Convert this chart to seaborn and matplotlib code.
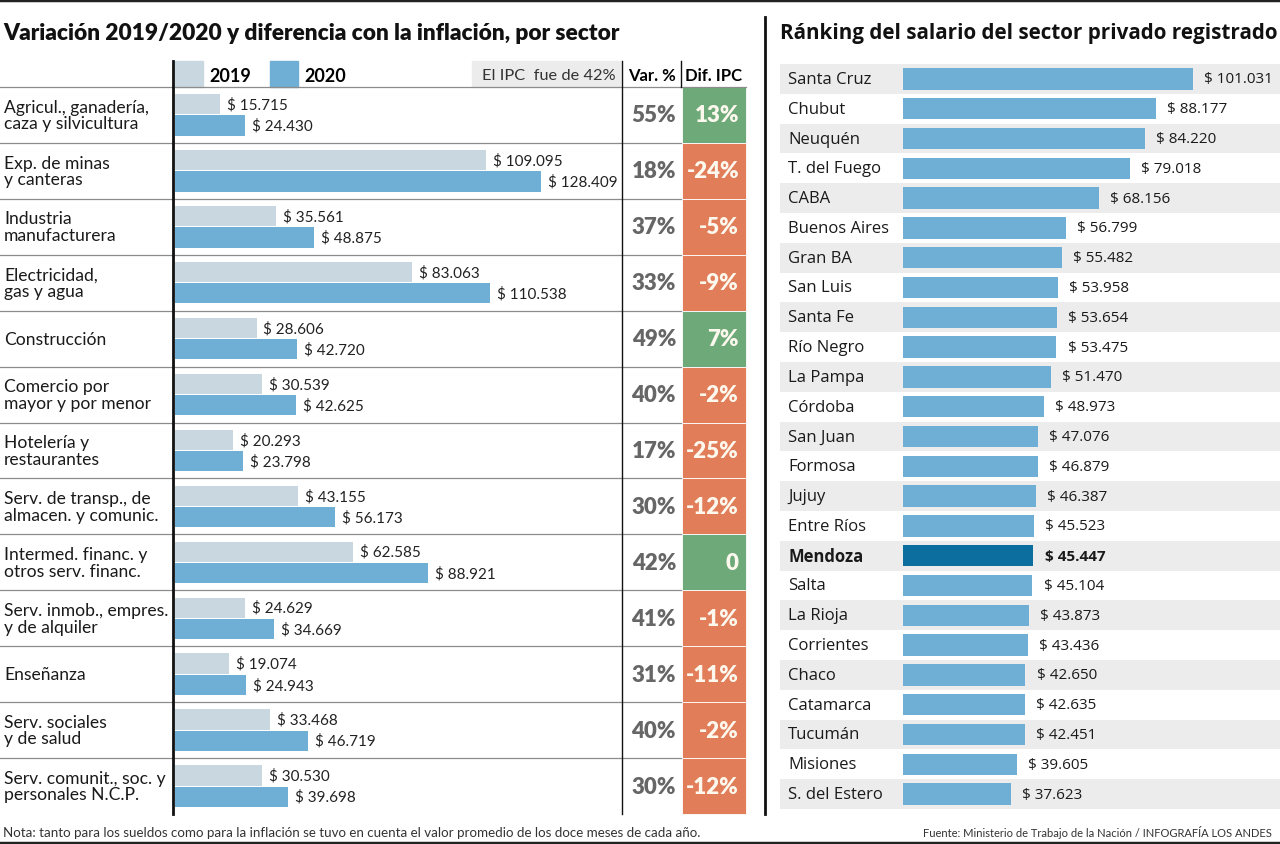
import pandas as pd
import matplotlib.pyplot as plt
import seaborn as sns
from matplotlib.patches import Rectangle
from matplotlib.lines import Line2D
from matplotlib.transforms import blended_transform_factory

# datos - panel izquierdo (por sector)
sectores = ['Agricul., ganadería,\ncaza y silvicultura', 'Exp. de minas\ny canteras',
            'Industria\nmanufacturera', 'Electricidad,\ngas y agua', 'Construcción',
            'Comercio por\nmayor y por menor', 'Hotelería y\nrestaurantes',
            'Serv. de transp., de\nalmacen. y comunic.', 'Intermed. financ. y\notros serv. financ.',
            'Serv. inmob., empres.\ny de alquiler', 'Enseñanza', 'Serv. sociales\ny de salud',
            'Serv. comunit., soc. y\npersonales N.C.P.']
sal_2019 = [15715, 109095, 35561, 83063, 28606, 30539, 20293, 43155, 62585, 24629, 19074, 33468, 30530]
sal_2020 = [24430, 128409, 48875, 110538, 42720, 42625, 23798, 56173, 88921, 34669, 24943, 46719, 39698]
var_pct = [55, 18, 37, 33, 49, 40, 17, 30, 42, 41, 31, 40, 30]
dif_ipc = [13, -24, -5, -9, 7, -2, -25, -12, 0, -1, -11, -2, -12]

# datos - panel derecho (ranking provincias)
provincias = ['Santa Cruz', 'Chubut', 'Neuquén', 'T. del Fuego', 'CABA', 'Buenos Aires', 'Gran BA',
              'San Luis', 'Santa Fe', 'Río Negro', 'La Pampa', 'Córdoba', 'San Juan', 'Formosa',
              'Jujuy', 'Entre Ríos', 'Mendoza', 'Salta', 'La Rioja', 'Corrientes', 'Chaco',
              'Catamarca', 'Tucumán', 'Misiones', 'S. del Estero']
salario_prov = [101031, 88177, 84220, 79018, 68156, 56799, 55482, 53958, 53654, 53475, 51470,
                48973, 47076, 46879, 46387, 45523, 45447, 45104, 43873, 43436, 42650, 42635,
                42451, 39605, 37623]
destacada = 'Mendoza'

C19 = '#c9d7e1'
C20 = '#6fafd5'
CDEST = '#0b6e9e'
VERDE = '#6ea97a'
NARANJA = '#e27d5a'
GRIS = '#ececec'

NARROW = ['Lato', 'DejaVu Sans']
OPEN = ['Open Sans', 'DejaVu Sans']

W, H = 1280, 845


def fx(p):
    return p / W


def fy(p):
    return 1 - p / H


def pesos(v):
    return '$ ' + f'{v:,}'.replace(',', '.')


fig = plt.figure(figsize=(W / 100, H / 100), dpi=100)
fig.patch.set_facecolor('white')
rend = fig.canvas.get_renderer()


def ajustar(t, ancho):
    # escala el tamaño de letra para que el texto ocupe 'ancho' pixeles
    w = t.get_window_extent(rend).width
    t.set_fontsize(t.get_fontsize() * ancho / w)


# filetes arriba y abajo
fig.add_artist(Line2D([0, 1], [fy(1), fy(1)], color='#222222', lw=2.5))
fig.add_artist(Line2D([0, 1], [fy(844), fy(844)], color='#222222', lw=2.5))

# ---------- panel izquierdo ----------
df = pd.DataFrame({'sector': sectores * 2,
                   'salario': sal_2019 + sal_2020,
                   'anio': ['2019'] * len(sectores) + ['2020'] * len(sectores)})

ax1 = fig.add_axes([fx(175), fy(815), fx(620) - fx(175), fy(88) - fy(815)])
sns.barplot(data=df, y='sector', x='salario', hue='anio', order=sectores,
            hue_order=['2019', '2020'], palette={'2019': C19, '2020': C20},
            orient='h', width=0.76, gap=0.05, saturation=1, legend=False, ax=ax1)
ax1.set_xlim(0, (620 - 175) / 0.00285)
ax1.set_ylim(len(sectores) - 0.5, -0.5)
ax1.axis('off')

for cont, vals in zip(ax1.containers, [sal_2019, sal_2020]):
    ax1.bar_label(cont, labels=[pesos(v) for v in vals], padding=5, fontsize=11,
                  fontfamily=NARROW, color='#222222')

tr1 = blended_transform_factory(fig.transFigure, ax1.transData)
etiquetas = []
for i, s in enumerate(sectores):
    etiquetas.append(ax1.text(fx(4), i, s, transform=tr1, ha='left', va='center', fontsize=13,
                              fontfamily=NARROW, color='#1a1a1a', linespacing=1.05))
    if i < len(sectores) - 1:
        ax1.plot([0, fx(681)], [i + 0.5, i + 0.5], transform=tr1, color='#8c8c8c',
                 lw=0.9, clip_on=False)
    ax1.add_patch(Rectangle((fx(682), i - 0.5), fx(746) - fx(682), 1, transform=tr1,
                            facecolor=VERDE if dif_ipc[i] >= 0 else NARANJA,
                            edgecolor='white', lw=0.6, clip_on=False))
    ax1.text(fx(676), i, f'{var_pct[i]}%', transform=tr1, ha='right', va='center',
             fontsize=16, fontweight='heavy', fontfamily=NARROW, color='#666666')
    txt = '0' if dif_ipc[i] == 0 else f'{dif_ipc[i]}%'
    ax1.text(fx(739), i, txt, transform=tr1, ha='right', va='center',
             fontsize=16, fontweight='heavy', fontfamily=NARROW, color='#fdf8ee')

# todas las etiquetas de sector con el mismo tamaño, que quepan antes del eje
ancho_max = max(t.get_window_extent(rend).width for t in etiquetas)
for t in etiquetas:
    t.set_fontsize(13 * min(1, 164 / ancho_max))

# cabecera de la tabla
fig.add_artist(Rectangle((fx(175), fy(88)), fx(203) - fx(175), fy(62) - fy(88), color=C19))
fig.add_artist(Rectangle((fx(270), fy(88)), fx(298) - fx(270), fy(62) - fy(88), color=C20))
fig.text(fx(209), fy(76), '2019', fontsize=13, fontweight='bold', fontfamily=NARROW, va='center')
fig.text(fx(304), fy(76), '2020', fontsize=13, fontweight='bold', fontfamily=NARROW, va='center')
fig.add_artist(Rectangle((fx(472), fy(88)), fx(620) - fx(472), fy(62) - fy(88), color=GRIS))
t = fig.text(fx(616), fy(76), 'El IPC  fue de 42%', fontsize=12.5, fontfamily=NARROW,
             color='#333333', ha='right', va='center')
ajustar(t, 134)
fig.text(fx(652), fy(76), 'Var. %', fontsize=12, fontweight='bold', fontfamily=NARROW,
         ha='center', va='center')
fig.text(fx(714), fy(76), 'Dif. IPC', fontsize=12, fontweight='bold', fontfamily=NARROW,
         ha='center', va='center')
fig.add_artist(Line2D([0, fx(746)], [fy(88), fy(88)], color='#8c8c8c', lw=0.9))
fig.add_artist(Line2D([fx(173), fx(173)], [fy(62), fy(815)], color='#111111', lw=2))
fig.add_artist(Line2D([fx(622), fx(622)], [fy(62), fy(815)], color='#111111', lw=1))
fig.add_artist(Line2D([fx(681), fx(681)], [fy(62), fy(88)], color='#111111', lw=1))

t = fig.text(fx(3), fy(33), 'Variación 2019/2020 y diferencia con la inflación, por sector',
             fontsize=19, fontweight='heavy', fontfamily=NARROW, va='center', color='#111111')
ajustar(t, 615)

# ---------- panel derecho ----------
fig.add_artist(Line2D([fx(765), fx(765)], [fy(18), fy(815)], color='#111111', lw=2))
t = fig.text(fx(780), fy(33), 'Ránking del salario del sector privado registrado',
             fontsize=15, fontweight='bold', fontfamily=OPEN, va='center', color='#111111')
ajustar(t, 497)

colores = {p: (CDEST if p == destacada else C20) for p in provincias}
ax2 = fig.add_axes([fx(780), fy(810), fx(1280) - fx(780), fy(65) - fy(810)])
sns.barplot(x=salario_prov, y=provincias, hue=provincias, palette=colores, orient='h',
            width=0.72, saturation=1, legend=False, ax=ax2)
esc = 0.00287
ax2.set_xlim(-(903 - 780) / esc, (1280 - 903) / esc)
ax2.set_ylim(len(provincias) - 0.5, -0.5)
ax2.axis('off')
for i in range(0, len(provincias), 2):
    ax2.axhspan(i - 0.5, i + 0.5, color=GRIS, lw=0, zorder=0)

tr2 = blended_transform_factory(ax2.transAxes, ax2.transData)
for i, (p, cont) in enumerate(zip(provincias, ax2.containers)):
    peso = 'bold' if p == destacada else 'normal'
    ax2.text(0.016, i, p, transform=tr2, ha='left', va='center', fontsize=12,
             fontfamily=OPEN, fontweight=peso, color='#1a1a1a')
    ax2.bar_label(cont, labels=[pesos(salario_prov[i])], padding=8, fontsize=11,
                  fontfamily=OPEN, fontweight=peso, color='#1a1a1a')

# pie
t = fig.text(fx(3), fy(833), 'Nota: tanto para los sueldos como para la inflación se tuvo en cuenta '
             'el valor promedio de los doce meses de cada año.', fontsize=9.5, fontfamily=NARROW,
             color='#333333', va='center')
ajustar(t, 697)
t = fig.text(fx(1272), fy(833), 'Fuente: Ministerio de Trabajo de la Nación / INFOGRAFÍA LOS ANDES',
             fontsize=9, fontfamily=NARROW, color='#333333', va='center', ha='right')
ajustar(t, 347)

fig.savefig('out.png', dpi=100)
